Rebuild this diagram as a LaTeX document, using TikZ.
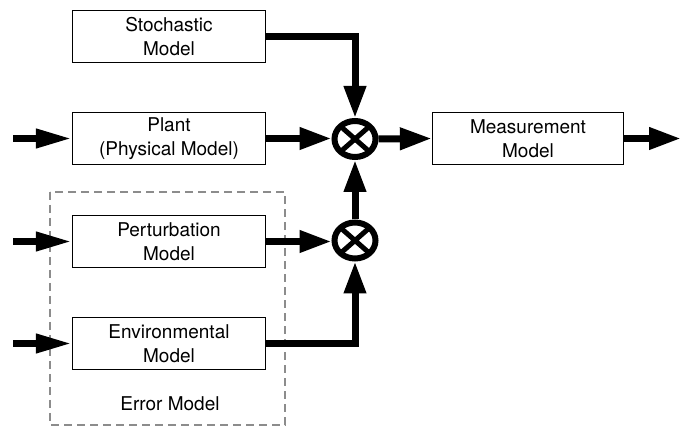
\documentclass[tikz,border=0pt]{standalone}
\usepackage{fontspec}
\setmainfont{TeX Gyre Heros}
\usetikzlibrary{arrows.meta,shapes.geometric}
\begin{document}
\begin{tikzpicture}[x=1pt,y=-1pt,
  font=\fontsize{19}{23.5}\selectfont,
  blk/.style={draw=black,line width=1.3pt,minimum width=193pt,minimum height=52pt,align=center,inner sep=0pt},
  mix/.style={ellipse,draw=black,line width=6pt,minimum width=41pt,minimum height=36pt,inner sep=0pt,
    path picture={\draw[line width=5pt] (path picture bounding box.north west) -- (path picture bounding box.south east)
      (path picture bounding box.north east) -- (path picture bounding box.south west);}},
  sig/.style={line width=7pt,-{Triangle[length=32pt,width=21pt]}},
  sigin/.style={line width=7pt,-{Triangle[length=36pt,width=18pt]}},
  wire/.style={line width=7pt}]
\useasboundingbox (0,0) rectangle (681,427);
\draw[draw=gray!90,line width=1.5pt,dash pattern=on 8pt off 5pt] (50,192) rectangle (285,425);
\node[blk] (stoch) at (169,36.5) {Stochastic\\Model};
\node[blk] (plant) at (169,138.5) {Plant\\(Physical Model)};
\node[blk] (pert) at (169,241.5) {Perturbation\\Model};
\node[blk] (env) at (169,343.5) {Environmental\\Model};
\node[blk,minimum width=191pt] (meas) at (528,138.5) {Measurement\\Model};
\node[mix] (c1) at (355,139) {};
\node[mix] (c2) at (355,240.5) {};
\node (err) at (170,404) {Error Model};
\coordinate (in1) at (13,138.5);
\coordinate (in2) at (13,241.5);
\coordinate (in3) at (13,343.5);
\coordinate (out) at (681,138.5);
\draw[sig] (stoch.east) -| (c1.north);
\draw[sigin] (in1) -- (plant.west);
\draw[sigin] (in2) -- (pert.west);
\draw[sigin] (in3) -- (env.west);
\draw[sig] (plant.east) -- (plant.east -| c1.west);
\draw[sig] (c1.east) -- (meas.west);
\draw[sig] (meas.east) -- (out);
\draw[sig] (pert.east) -- (pert.east -| c2.west);
\draw[sig] (env.east) -| (c2.south);
\draw[sig] (c2.north) -- (c1.south);
\end{tikzpicture}
\end{document}
